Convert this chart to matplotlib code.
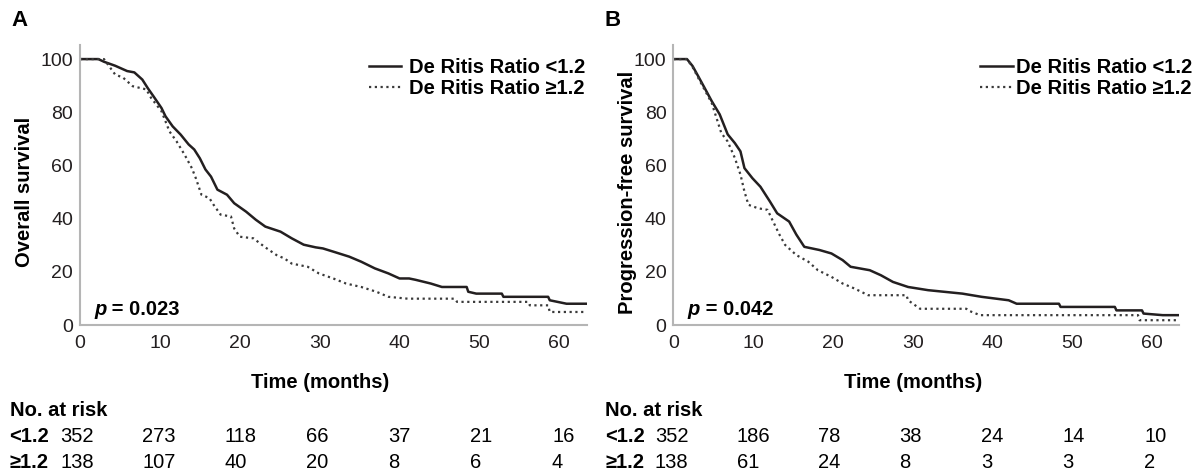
import matplotlib
matplotlib.use('Agg')
import matplotlib.pyplot as plt

plt.rcParams['font.family'] = ['Liberation Sans', 'DejaVu Sans']

# Panel A: overall survival (curve vertices)
os_low_t = [0, 2.3, 3, 4.4, 5.9, 6.8, 7.8, 8.5, 9.2, 10.2, 10.7, 11.6, 12.6, 13.6, 14.3, 15, 15.7, 16.4,
            17.2, 18.4, 19.3, 20.8, 22, 23.2, 25.1, 26.5, 28, 29.5, 30.4, 31.8, 33.7, 35.2, 36.9, 38.6, 40,
            41.2, 42, 43.9, 45.3, 48.4, 48.6, 49.6, 52.8, 53, 58.6, 58.8, 60.9, 63.4]
os_low_s = [100, 100, 99, 97.5, 95.5, 95, 92.3, 89, 86, 81.6, 78.5, 74.7, 71.6, 67.9, 66, 62.7, 58.5, 55.8,
            50.9, 49, 45.8, 42.6, 39.6, 37, 35.1, 32.6, 30.2, 29.2, 28.8, 27.5, 25.7, 23.8, 21.3, 19.4, 17.5,
            17.5, 17, 15.6, 14.3, 14.3, 12.5, 11.8, 11.8, 10.6, 10.6, 9.3, 8.0, 8.0]
os_high_t = [0, 3, 4.4, 5.4, 6.6, 8.3, 8.9, 10.2, 11.2, 12.1, 13.1, 14, 14.5, 15.2, 16.2, 16.7, 17.6, 18.9,
             19.3, 20, 21.7, 23.1, 24.6, 25.6, 26.5, 28.5, 29.9, 31.7, 33.3, 35.2, 37.1, 38.6, 41, 46.9,
             47.2, 56.1, 56.3, 58.6, 58.8, 63.4]
os_high_s = [100, 100, 94.2, 93, 89.8, 88.6, 85.4, 80.4, 72.8, 69, 64, 59, 55.2, 49, 47.7, 45.3, 41.5, 40.8,
             36.3, 33.2, 32.6, 29.4, 26.3, 25, 23.1, 21.9, 19.4, 17.5, 15.6, 14.3, 12.5, 10.6, 9.9, 9.9,
             8.7, 8.7, 7.4, 7.4, 4.9, 4.9]

# Panel B: progression-free survival
pfs_low_t = [0, 1.7, 2.4, 3.1, 3.9, 4.8, 5.8, 6.8, 7.7, 8.4, 8.9, 9.9, 10.9, 12.1, 13, 14.5, 15.4, 16.4,
             18.3, 19.8, 21.2, 22.2, 24.6, 26, 27.5, 29.4, 31.9, 36.2, 38.6, 42, 43, 48.3, 48.5, 55.3, 55.5,
             58.7, 58.9, 61.3, 63.3]
pfs_low_s = [100, 100, 97.4, 93.6, 89.2, 84.2, 79.2, 71.7, 68.4, 65.3, 59, 55.2, 52, 46.4, 42, 38.9, 34,
             29.4, 28.2, 26.9, 24.4, 21.9, 20.6, 18.7, 16.2, 14.3, 13.1, 11.8, 10.6, 9.3, 8.0, 8.0, 6.8, 6.8,
             5.5, 5.5, 4.3, 3.7, 3.7]
pfs_high_t = [0, 1.7, 2.4, 3.1, 3.9, 4.8, 6.0, 6.8, 7.7, 8.4, 8.9, 9.4, 10.6, 11.8, 12.3, 13.3, 14, 15.4,
              16.9, 18.1, 19.8, 21.2, 22.7, 24.4, 29.2, 29.4, 30.9, 36.7, 36.9, 38.4, 58.2, 58.4, 63.3]
pfs_high_s = [100, 100, 97, 93, 88.5, 83.5, 72.2, 69, 62.8, 56.6, 50.2, 45.2, 43.9, 43.3, 40.1, 33.9, 30.1,
              26.3, 23.8, 20.6, 18.1, 15.6, 13.7, 11.2, 11.2, 9.3, 6.1, 6.1, 5.5, 3.7, 3.7, 1.8, 1.8]

legend_labels = ['De Ritis Ratio <1.2', 'De Ritis Ratio \u22651.2']
risk_groups = ['<1.2', '\u22651.2']
os_risk_low = [352, 273, 118, 66, 37, 21, 16]
os_risk_high = [138, 107, 40, 20, 8, 6, 4]
pfs_risk_low = [352, 186, 78, 38, 24, 14, 10]
pfs_risk_high = [138, 61, 24, 8, 3, 3, 2]

W, H = 1203, 476
fig = plt.figure(figsize=(W / 100, H / 100), dpi=100)

FS = 14.5


def px(x, y):
    return x / W, 1 - y / H


panels = [
    dict(rect=[80 / W, 151 / H, 506.5 / W, 280 / H], xmax=63.4, letter='A', lx=20,
         ylabel='Overall survival', ylx=-0.1086, pval='0.023',
         curves=(os_low_t, os_low_s, os_high_t, os_high_s),
         leg=(0.997, 1.55, 0.4), risk=(os_risk_low, os_risk_high), tx=9.6, col0=60, step=82),
    dict(rect=[673.4 / W, 151 / H, 505.3 / W, 280 / H], xmax=63.3, letter='B', lx=613,
         ylabel='Progression-free survival', ylx=-0.0918, pval='0.042',
         curves=(pfs_low_t, pfs_low_s, pfs_high_t, pfs_high_s),
         leg=(1.026, 1.6, 0.15), risk=(pfs_risk_low, pfs_risk_high), tx=605, col0=655, step=81.5),
]

for p in panels:
    ax = fig.add_axes(p['rect'])
    lt, ls, ht, hs = p['curves']
    ax.plot(lt, ls, color='#231f20', lw=1.8, label=legend_labels[0])
    ax.plot(ht, hs, color='#3a3a3a', lw=1.6, linestyle=(0, (1, 1.6)), label=legend_labels[1])

    ax.set_xlim(0, p['xmax'])
    ax.set_ylim(0, 105.3)
    ax.set_xticks(range(0, 61, 10))
    ax.set_yticks(range(0, 101, 20))
    for side in ('top', 'right'):
        ax.spines[side].set_visible(False)
    for side in ('left', 'bottom'):
        ax.spines[side].set_color('#b5b5b5')
        ax.spines[side].set_linewidth(1.5)
    ax.tick_params(length=0, labelsize=14, colors='#231f20')
    ax.tick_params(axis='x', pad=7)
    ax.tick_params(axis='y', pad=5)

    ax.text(p['ylx'], 0.475, p['ylabel'], rotation=90, transform=ax.transAxes,
            ha='center', va='center', fontsize=FS, fontweight='bold')
    ax.text(0.475, -0.207, 'Time (months)', transform=ax.transAxes,
            ha='center', va='center', fontsize=FS, fontweight='bold')

    lx, hl, tp = p['leg']
    ax.legend(loc='upper right', bbox_to_anchor=(lx, 0.955), frameon=False, borderpad=0,
              borderaxespad=0, handlelength=hl, handletextpad=tp, labelspacing=0.12,
              prop={'weight': 'bold', 'size': FS})

    pt = ax.text(1.75, 6.0, 'p', fontsize=FS, fontweight='bold', fontstyle='italic',
                 ha='left', va='center')
    ax.annotate(' = ' + p['pval'], xy=(1, 0.5), xycoords=pt, ha='left', va='center',
                fontsize=FS, fontweight='bold')

    fig.text(*px(p['lx'], 21), p['letter'], fontsize=16, fontweight='bold', ha='center', va='center')

    # number-at-risk table
    fig.text(*px(p['tx'], 411), 'No. at risk', fontsize=FS, fontweight='bold', ha='left', va='center')
    for row, (grp, vals) in enumerate(zip(risk_groups, p['risk'])):
        y = 437 + row * 26
        fig.text(*px(p['tx'], y), grp, fontsize=FS, fontweight='bold', ha='left', va='center')
        for k, v in enumerate(vals):
            fig.text(*px(p['col0'] + k * p['step'], y), str(v), fontsize=FS, ha='left', va='center')

fig.savefig('out.png', dpi=100)
